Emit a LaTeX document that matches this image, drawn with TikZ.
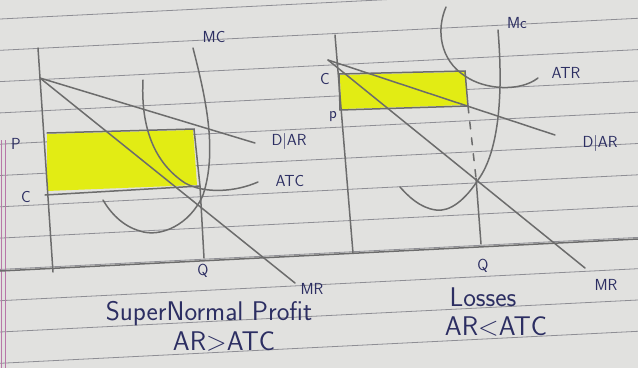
\documentclass[tikz,border=0pt]{standalone}
\usepackage{tikz}
\definecolor{paper}{HTML}{E1E1DF}
\definecolor{rulecol}{HTML}{8E8E94}
\definecolor{pencil}{HTML}{6C6C6C}
\definecolor{ink}{HTML}{2C2E62}
\definecolor{hilite}{HTML}{E2EC14}
\definecolor{margincol}{HTML}{B877A8}

\begin{document}
\begin{tikzpicture}[x=1pt,y=-1pt]
        \tikzset{curve/.style={draw=pencil, line width=1.5pt, line cap=round},
        ruled/.style={draw=rulecol, line width=0.8pt},
        lbl/.style={text=ink, font=\sffamily\fontsize{16}{17}\selectfont, inner sep=0pt},
        caption/.style={text=ink, font=\sffamily\fontsize{27}{29}\selectfont, inner sep=0pt}}
        \fill[paper] (0,0) rectangle (638,368);
        \useasboundingbox (0,0) rectangle (638,368);
        % notebook page
        \foreach \y in {19,50.3,...,370} \draw[ruled] (0,\y) -- (638,\y-32);
        \draw[margincol, line width=0.8pt] (1.5,140) -- (1.5,368) (5,140) -- (5,368);
        \draw[curve] (0,271) -- (638,239);
        % left: supernormal profit
        \coordinate (L-o) at (38,48);
        \coordinate (L-b) at (53,272);
        \coordinate (L-d) at (40,78);
        \coordinate (L-dend) at (255,143);
        \coordinate (L-mrend) at (295,283);
        \coordinate (L-pl) at (47,133);
        \coordinate (L-pr) at (194,129);
        \coordinate (L-cl) at (45,195);
        \coordinate (L-cr) at (200,186);
        \coordinate (L-q) at (204,258);
        \fill[hilite] (47,134) -- (193,130) -- (197,185) -- (47,191) -- cycle;
        \draw[curve] (L-o) -- (L-b);
        \draw[curve] (L-pl) -- (L-pr) -- (L-cr) -- (L-q);
        \draw[curve] (L-cl) -- (L-cr);
        \draw[curve] (L-d) -- (L-dend);
        \draw[curve] (L-d) -- (L-mrend);
        \draw[curve] (193,48) .. controls (205,95) and (218,150) .. (203,195)
            .. controls (190,225) and (160,238) .. (140,231)
            .. controls (122,226) and (110,212) .. (103,200);
        \draw[curve] (143,80) .. controls (141,120) and (150,160) .. (185,183)
            .. controls (205,194) and (235,192) .. (258,182);
        \node[lbl] (L-MC) at (214,37) {MC};
        \node[lbl] (L-P) at (16,144) {P};
        \node[lbl] (L-C) at (26,197) {C};
        \node[lbl] (L-DAR) at (289,141) {D\textbar AR};
        \node[lbl] (L-ATC) at (290,181) {ATC};
        \node[lbl] (L-Q) at (203,271) {Q};
        \node[lbl] (L-MR) at (312,289) {MR};
        \node[caption] (L-title) at (209,314) {SuperNormal Profit};
        \node[caption] (L-rule) at (224,341) {AR\textgreater ATC};
        % right: losses
        \coordinate (R-o) at (335,35);
        \coordinate (R-b) at (353,253);
        \coordinate (R-d) at (328,60);
        \coordinate (R-dend) at (555,135);
        \coordinate (R-mrend) at (585,268);
        \coordinate (R-cl) at (339,74);
        \coordinate (R-cr) at (465,71);
        \coordinate (R-pl) at (340,110);
        \coordinate (R-pr) at (468,106);
        \coordinate (R-qmid) at (476,178);
        \coordinate (R-q) at (481,244);
        \fill[hilite] (340,75) -- (465,72) -- (467,105) -- (341,109) -- cycle;
        \draw[curve] (R-o) -- (R-b);
        \draw[curve] (R-cl) -- (R-cr) -- (R-pr) -- (R-pl) -- cycle;
        \draw[curve] (R-d) -- (R-dend);
        \draw[curve] (R-d) -- (R-mrend);
        \draw[curve, dash pattern=on 7pt off 9pt] (R-pr) -- (R-qmid);
        \draw[curve] (R-qmid) -- (R-q);
        \draw[curve] (498,30) .. controls (503,90) and (500,150) .. (478,180)
            .. controls (465,200) and (450,212) .. (436,210)
            .. controls (420,208) and (408,196) .. (400,187);
        \draw[curve] (446,7) .. controls (436,30) and (440,60) .. (465,76)
            .. controls (485,90) and (520,92) .. (538,78);
        \node[lbl] (R-MC) at (517,23) {Mc};
        \node[lbl] (R-C) at (325,79) {C};
        \node[lbl] (R-P) at (333,117) {p};
        \node[lbl] (R-ATR) at (566,73) {ATR};
        \node[lbl] (R-DAR) at (600,143) {D\textbar AR};
        \node[lbl] (R-Q) at (483,266) {Q};
        \node[lbl] (R-MR) at (606,285) {MR};
        \node[caption] (R-title) at (483,297) {Losses};
        \node[caption] (R-rule) at (496,326) {AR\textless ATC};
    \end{tikzpicture}
\end{document}
